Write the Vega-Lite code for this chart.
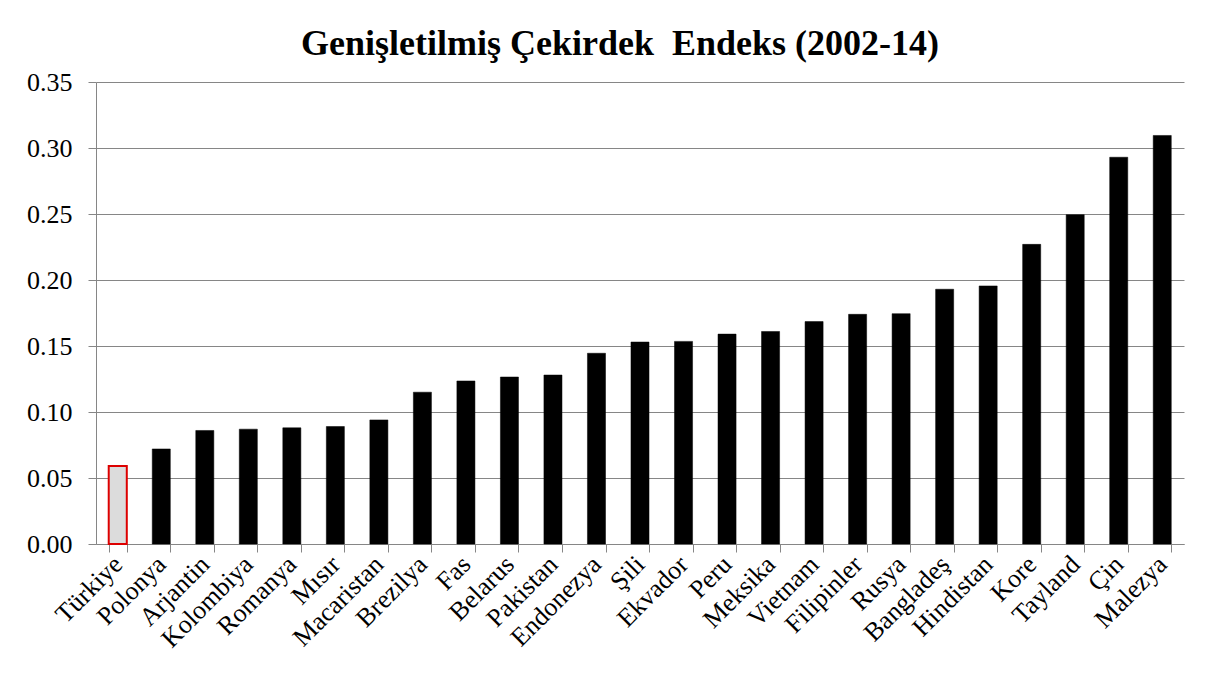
{
  "$schema": "https://vega.github.io/schema/vega-lite/v6.json",
  "width": 1088,
  "height": 462,
  "autosize": {"type": "none"},
  "padding": {"left": 96, "top": 82, "right": 24, "bottom": 138},
  "background": "white",
  "title": {
    "text": "Genişletilmiş Çekirdek \u00a0Endeks (2002-14)",
    "font": "Liberation Serif",
    "fontSize": 36,
    "fontWeight": "bold",
    "color": "#000000",
    "anchor": "middle",
    "frame": "group",
    "offset": 6,
    "dx": -20
  },
  "data": {
    "values": [
      {"ulke": "Türkiye", "deger": 0.059},
      {"ulke": "Polonya", "deger": 0.072},
      {"ulke": "Arjantin", "deger": 0.086},
      {"ulke": "Kolombiya", "deger": 0.087},
      {"ulke": "Romanya", "deger": 0.088},
      {"ulke": "Mısır", "deger": 0.089},
      {"ulke": "Macaristan", "deger": 0.094},
      {"ulke": "Brezilya", "deger": 0.115},
      {"ulke": "Fas", "deger": 0.1235},
      {"ulke": "Belarus", "deger": 0.1265},
      {"ulke": "Pakistan", "deger": 0.128},
      {"ulke": "Endonezya", "deger": 0.1445},
      {"ulke": "Şili", "deger": 0.153},
      {"ulke": "Ekvador", "deger": 0.1535},
      {"ulke": "Peru", "deger": 0.159},
      {"ulke": "Meksika", "deger": 0.161},
      {"ulke": "Vietnam", "deger": 0.1685},
      {"ulke": "Filipinler", "deger": 0.174},
      {"ulke": "Rusya", "deger": 0.1745},
      {"ulke": "Bangladeş", "deger": 0.193},
      {"ulke": "Hindistan", "deger": 0.1955},
      {"ulke": "Kore", "deger": 0.227},
      {"ulke": "Tayland", "deger": 0.2495},
      {"ulke": "Çin", "deger": 0.293},
      {"ulke": "Malezya", "deger": 0.3095}
    ]
  },
  "mark": {"type": "bar"},
  "encoding": {
    "x": {
      "field": "ulke",
      "type": "nominal",
      "sort": null,
      "scale": {"paddingInner": 0.585, "paddingOuter": 0.2925},
      "axis": {
        "title": null,
        "labelAngle": -45,
        "labelAlign": "right",
        "labelBaseline": "middle",
        "labelFont": "Liberation Serif",
        "labelFontSize": 26,
        "labelColor": "#000000",
        "labelPadding": 8,
        "tickBand": "extent",
        "tickSize": 8,
        "tickColor": "#868686",
        "domainColor": "#868686",
        "labelOverlap": false,
        "labelLimit": 300
      }
    },
    "y": {
      "field": "deger",
      "type": "quantitative",
      "scale": {"domain": [0, 0.35], "nice": false},
      "axis": {
        "title": null,
        "values": [0, 0.05, 0.1, 0.15, 0.2, 0.25, 0.3, 0.35],
        "format": ".2f",
        "labelFont": "Liberation Serif",
        "labelFontSize": 26,
        "labelColor": "#000000",
        "labelPadding": 16,
        "tickSize": 8,
        "tickColor": "#868686",
        "domainColor": "#868686",
        "gridColor": "#868686",
        "gridOpacity": 1,
        "grid": true
      }
    },
    "fill": {
      "condition": {"test": "datum.ulke === 'Türkiye'", "value": "#dcdcdc"},
      "value": "#000000"
    },
    "stroke": {
      "condition": {"test": "datum.ulke === 'Türkiye'", "value": "#dd0000"},
      "value": "#000000"
    },
    "strokeWidth": {
      "condition": {"test": "datum.ulke === 'Türkiye'", "value": 2},
      "value": 0.5
    }
  },
  "config": {"view": {"stroke": null}}
}
